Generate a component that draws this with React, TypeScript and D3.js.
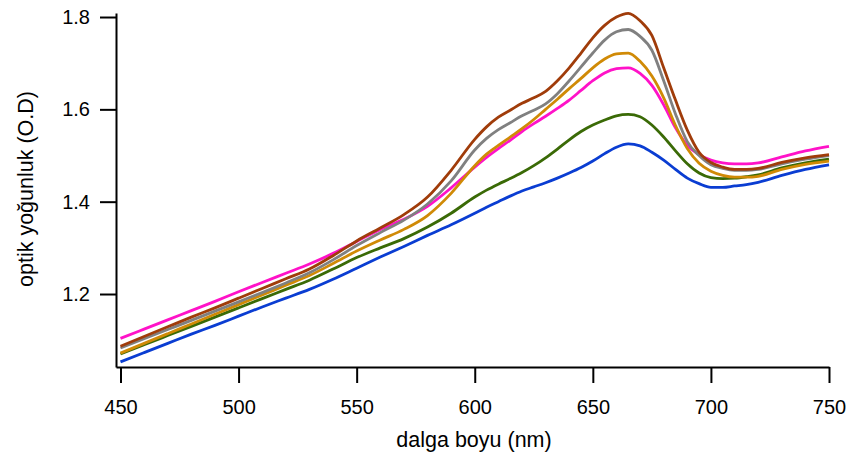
import React, { useEffect, useRef } from "react";
import * as d3 from "d3";

const wavelengths = [
  450, 460, 470, 480, 490, 500, 510, 520, 530, 540, 550, 560, 570, 580, 590,
  600, 605, 610, 615, 620, 625, 630, 635, 640, 645, 650, 655, 660, 665, 670,
  675, 680, 685, 690, 695, 700, 705, 710, 715, 720, 730, 740, 750,
];

const blueValues = [
  1.053, 1.073, 1.093, 1.113, 1.132, 1.152, 1.172, 1.191, 1.21, 1.232, 1.256, 1.28, 1.303, 1.327, 1.35,
  1.375, 1.388, 1.4, 1.412, 1.423, 1.432, 1.441, 1.451, 1.462, 1.474, 1.488, 1.504, 1.518, 1.525, 1.521,
  1.507, 1.49, 1.47, 1.451, 1.439, 1.431, 1.431, 1.434, 1.437, 1.442, 1.457, 1.47, 1.48,
];

const greenValues = [
  1.07, 1.09, 1.11, 1.13, 1.15, 1.17, 1.19, 1.21, 1.23, 1.254, 1.279, 1.3, 1.32, 1.345, 1.375,
  1.41, 1.425, 1.438, 1.45, 1.463, 1.478, 1.495, 1.514, 1.534, 1.552, 1.566, 1.577, 1.586, 1.589, 1.584,
  1.566, 1.54, 1.51, 1.482, 1.462, 1.452, 1.45, 1.451, 1.454, 1.458, 1.473, 1.484, 1.492,
];

const goldValues = [
  1.072, 1.093, 1.114, 1.135, 1.156, 1.177, 1.198, 1.219, 1.24, 1.266, 1.293, 1.317, 1.34, 1.37, 1.418,
  1.478, 1.503, 1.522, 1.54, 1.558, 1.578, 1.6, 1.622, 1.645, 1.667, 1.69, 1.709, 1.72, 1.722, 1.704,
  1.672, 1.625, 1.565, 1.515, 1.483, 1.466, 1.457, 1.453, 1.453, 1.455, 1.47, 1.481, 1.488,
];

const magentaValues = [
  1.104, 1.124, 1.144, 1.164, 1.184, 1.205, 1.225, 1.245, 1.265, 1.288, 1.314, 1.34, 1.362, 1.39, 1.43,
  1.475, 1.496, 1.515, 1.533, 1.552, 1.569, 1.585, 1.602, 1.62, 1.641, 1.662, 1.679, 1.688, 1.69, 1.678,
  1.652, 1.61, 1.56, 1.522, 1.502, 1.49, 1.484, 1.482, 1.482, 1.484, 1.497, 1.51, 1.52,
];

const grayValues = [
  1.083, 1.103, 1.123, 1.143, 1.163, 1.183, 1.203, 1.224, 1.246, 1.274, 1.305, 1.333, 1.36, 1.395, 1.445,
  1.512, 1.537, 1.556, 1.571, 1.586, 1.598, 1.612, 1.634, 1.662, 1.692, 1.722, 1.75, 1.768, 1.773, 1.758,
  1.728, 1.662, 1.59, 1.53, 1.5, 1.48, 1.472, 1.468, 1.468, 1.47, 1.482, 1.492, 1.5,
];

const brownValues = [
  1.087, 1.108, 1.129, 1.15, 1.17, 1.191, 1.212, 1.233, 1.254, 1.283, 1.315, 1.343, 1.372, 1.41, 1.468,
  1.535, 1.562, 1.583, 1.598, 1.613, 1.625, 1.639, 1.662, 1.69, 1.722, 1.755, 1.782, 1.8, 1.808, 1.792,
  1.76, 1.69, 1.62, 1.555, 1.507, 1.485, 1.475, 1.47, 1.47, 1.472, 1.485, 1.495, 1.502,
];

const seriesNames = ["blue", "green", "magenta", "gold", "gray", "brown"];
const seriesColors = ["#0a3dd2", "#3a6a06", "#ff12c8", "#d08a06", "#808080", "#a03c0a"];
const seriesValues = [blueValues, greenValues, magentaValues, goldValues, grayValues, brownValues];

const xTicks = [450, 500, 550, 600, 650, 700, 750];
const yTicks = [1.2, 1.4, 1.6, 1.8];
const xTitle = "dalga boyu (nm)";
const yTitle = "optik yoğunluk (O.D)";

const W = 853;
const H = 453;
const FONT = "'Liberation Sans', Arial, Helvetica, sans-serif";

export default function App() {
  const xAxisRef = useRef<SVGGElement>(null);
  const yAxisRef = useRef<SVGGElement>(null);

  const x = d3.scaleLinear().domain([448.1, 750]).range([116, 829]);
  const y = d3.scaleLinear().domain([1.0419, 1.8087]).range([367, 13]);

  useEffect(() => {
    if (xAxisRef.current) {
      const g = d3.select(xAxisRef.current);
      g.call(
        d3.axisBottom(x).tickValues(xTicks).tickSize(16).tickSizeOuter(0).tickPadding(17).tickFormat(d3.format("d"))
      );
      g.selectAll("path, line").attr("stroke", "#000").attr("stroke-width", 2);
      g.selectAll("text").attr("font-size", 20).attr("font-family", FONT).attr("fill", "#000");
    }
    if (yAxisRef.current) {
      const g = d3.select(yAxisRef.current);
      g.call(
        d3.axisLeft(y).tickValues(yTicks).tickSize(16).tickSizeOuter(0).tickPadding(10).tickFormat(d3.format(".1f"))
      );
      g.selectAll("path, line").attr("stroke", "#000").attr("stroke-width", 2);
      g.selectAll("text").attr("font-size", 20).attr("font-family", FONT).attr("fill", "#000");
    }
  }, []);

  const line = d3
    .line<number>()
    .x((_, i) => x(wavelengths[i]))
    .y((d) => y(d))
    .curve(d3.curveMonotoneX);

  return (
    <svg
      width={W}
      height={H}
      style={{ position: "absolute", left: 0, top: 0, display: "block", background: "#fff" }}
    >
      <rect width={W} height={H} fill="#fff" />
      {seriesValues.map((vals, i) => (
        <path
          key={seriesNames[i]}
          d={line(vals) || ""}
          fill="none"
          stroke={seriesColors[i]}
          strokeWidth={2.8}
          strokeLinejoin="round"
        />
      ))}
      <g ref={xAxisRef} transform="translate(0,367)" />
      <g ref={yAxisRef} transform="translate(116,0)" />
      <text x={474} y={447} textAnchor="middle" fontSize={21.5} fontFamily={FONT} fill="#000">
        {xTitle}
      </text>
      <text
        transform="translate(33,189) rotate(-90)"
        textAnchor="middle"
        fontSize={21.5}
        fontFamily={FONT}
        fill="#000"
      >
        {yTitle}
      </text>
    </svg>
  );
}
